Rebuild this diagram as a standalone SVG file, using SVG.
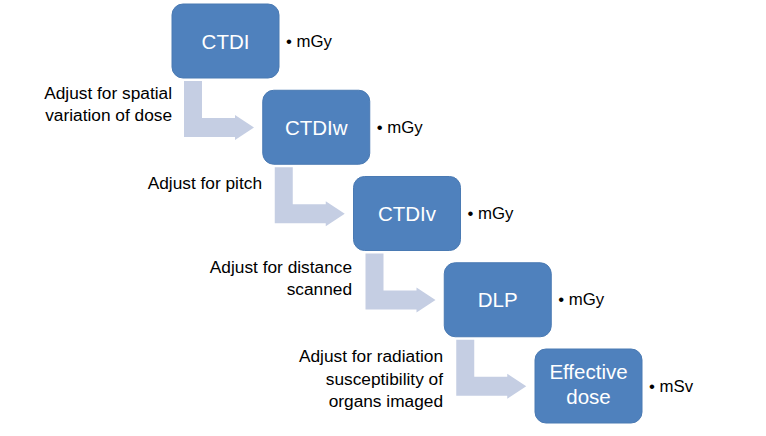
<svg xmlns="http://www.w3.org/2000/svg" width="766" height="436" viewBox="0 0 766 436">
<style>
.box{fill:#4F81BD;stroke:#4A7AB3;stroke-width:1}
.bt{font-family:"Liberation Sans",Arial,sans-serif;font-size:20.5px;fill:#FFFFFF;text-anchor:middle}
.lb{font-family:"Liberation Sans",Arial,sans-serif;font-size:17.3px;fill:#000000;text-anchor:end}
.un{font-family:"Liberation Sans",Arial,sans-serif;font-size:16.8px;fill:#000000}
.arr{fill:#C5CEE3}
</style>
<rect width="766" height="436" fill="#FFFFFF"/>
<g id="connectors">
<path class="arr" d="M184,81 H202 V118 H235 V115 L254,127.5 L235,140 V137 H184 Z"/>
<path class="arr" transform="translate(90.75,86.25)" d="M184,81 H202 V118 H235 V115 L254,127.5 L235,140 V137 H184 Z"/>
<path class="arr" transform="translate(181.5,172.5)" d="M184,81 H202 V118 H235 V115 L254,127.5 L235,140 V137 H184 Z"/>
<path class="arr" transform="translate(272.25,258.75)" d="M184,81 H202 V118 H235 V115 L254,127.5 L235,140 V137 H184 Z"/>
</g>
<g id="node-ctdi">
<rect class="box" x="172" y="4" width="107" height="74" rx="11"/>
<text class="bt" x="225.5" y="48.5">CTDI</text>
<text class="un" x="286" y="46.5">• mGy</text>
</g>
<g id="node-ctdiw">
<rect class="box" x="262.75" y="90.25" width="107" height="74" rx="11"/>
<text class="bt" x="316.25" y="134.75">CTDIw</text>
<text class="un" x="376.75" y="132.75">• mGy</text>
</g>
<g id="node-ctdiv">
<rect class="box" x="353.5" y="176.5" width="107" height="74" rx="11"/>
<text class="bt" x="407" y="221">CTDIv</text>
<text class="un" x="467.5" y="219">• mGy</text>
</g>
<g id="node-dlp">
<rect class="box" x="444.25" y="262.75" width="107" height="74" rx="11"/>
<text class="bt" x="497.75" y="307.25">DLP</text>
<text class="un" x="558.25" y="305.25">• mGy</text>
</g>
<g id="node-effective">
<rect class="box" x="535" y="349" width="107" height="74" rx="11"/>
<text class="bt" x="588.5" y="379">Effective</text>
<text class="bt" x="588.5" y="404">dose</text>
<text class="un" x="649" y="391.5">• mSv</text>
</g>
<g id="labels">
<text class="lb" x="172" y="98.5">Adjust for spatial</text>
<text class="lb" x="172" y="120.5">variation of dose</text>
<text class="lb" x="262" y="189">Adjust for pitch</text>
<text class="lb" x="352" y="273">Adjust for distance</text>
<text class="lb" x="352" y="295">scanned</text>
<text class="lb" x="443" y="362">Adjust for radiation</text>
<text class="lb" x="443" y="384.5">susceptibility of</text>
<text class="lb" x="443" y="407">organs imaged</text>
</g>
</svg>
